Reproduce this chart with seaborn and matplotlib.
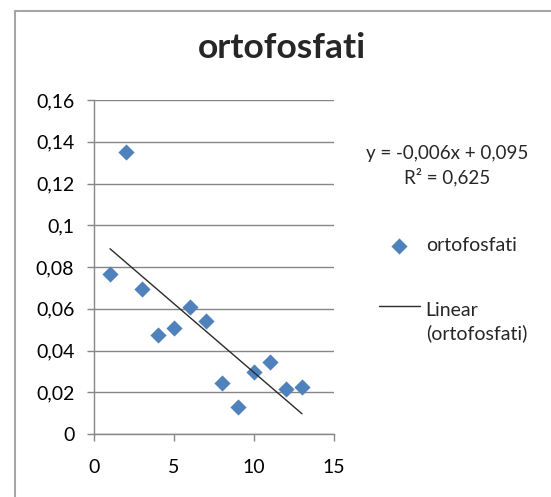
import numpy as np
import pandas as pd
import matplotlib
matplotlib.use("Agg")
import matplotlib.pyplot as plt
import seaborn as sns
from matplotlib.patches import Rectangle

# data
x_vals = [1, 2, 3, 4, 5, 6, 7, 8, 9, 10, 11, 12, 13]
y_vals = [0.0765, 0.135, 0.0696, 0.0474, 0.0509, 0.061, 0.054,
          0.0246, 0.013, 0.0297, 0.0343, 0.0214, 0.0224]
y_ticks = [0, 0.02, 0.04, 0.06, 0.08, 0.1, 0.12, 0.14, 0.16]
y_tick_labels = ["0", "0,02", "0,04", "0,06", "0,08", "0,1", "0,12", "0,14", "0,16"]
x_ticks = [0, 5, 10, 15]
title = "ortofosfati"
series_name = "ortofosfati"
trend_name = "Linear\n(ortofosfati)"
eq_text = "y = -0,006x + 0,095"
r2_text = "R² = 0,625"

df = pd.DataFrame({"x": x_vals, "y": y_vals})

sns.set_style("white")
plt.rcParams['font.family'] = ['Lato', 'DejaVu Sans']

W, H = 551, 497
fig = plt.figure(figsize=(W / 100, H / 100), dpi=100)
ax = fig.add_axes([94 / W, (H - 434) / H, 240 / W, 334 / H])

grid_col = "#868686"
blue = "#4F81BD"

sns.scatterplot(data=df, x="x", y="y", marker="D", s=68, color=blue,
                edgecolor=blue, linewidth=0, ax=ax, label=series_name, zorder=3)
sns.regplot(data=df, x="x", y="y", scatter=False, ci=None, truncate=True, ax=ax,
            line_kws={"color": "#2b2b2b", "lw": 1.0, "zorder": 4})
trend_line = ax.lines[-1]
trend_line.set_label(trend_name)

# horizontal gridlines only
ax.set_axisbelow(True)
ax.grid(axis="y", color=grid_col, lw=1.0)
ax.grid(axis="x", visible=False)

ax.set_xlim(0, 15)
ax.set_ylim(0, 0.16)
ax.set_xticks(x_ticks)
ax.set_xticklabels([str(v) for v in x_ticks])
ax.set_yticks(y_ticks)
ax.set_yticklabels(y_tick_labels)
ax.set_xlabel("")
ax.set_ylabel("")

for side in ["top", "right"]:
    ax.spines[side].set_visible(False)
for side in ["left", "bottom"]:
    ax.spines[side].set_color(grid_col)
    ax.spines[side].set_linewidth(1.0)

ax.tick_params(axis="both", which="major", direction="out", length=5.2, width=1.0,
               color=grid_col, labelsize=14, labelcolor="black")
ax.tick_params(axis="y", pad=9)
ax.tick_params(axis="x", pad=13)
ax.tick_params(left=True, bottom=True)

fig.suptitle(title, x=282 / W, y=1 - 48 / H, va="center", fontsize=25.5, fontweight="bold")

fig.text(447 / W, 1 - 153 / H, eq_text, ha="center", va="center", fontsize=13.5)
fig.text(447 / W, 1 - 177 / H, r2_text, ha="center", va="center", fontsize=13.5)

sc_handle = ax.collections[0]
leg = ax.legend([sc_handle, trend_line], [series_name, trend_name], loc="upper left",
                bbox_to_anchor=(379 / W, 1 - 237 / H),
                bbox_transform=fig.transFigure, frameon=False, fontsize=14,
                borderpad=0, borderaxespad=0, handlelength=2.1, handletextpad=0.3,
                labelspacing=2.45)
leg.get_texts()[1].set_linespacing(1.4)
# put the trend line handle level with the first text line, as in Excel
line_handle = leg.legend_handles[1]
line_handle.set_ydata(np.asarray(line_handle.get_ydata()) + 11.5)

# chart area border
fig.patches.append(Rectangle((14.5 / W, -0.1), 1.2, 1.1 - 10.5 / H, transform=fig.transFigure,
                             fill=False, edgecolor="#a6a6a6", lw=1.5))

fig.savefig("out.png", dpi=100)
